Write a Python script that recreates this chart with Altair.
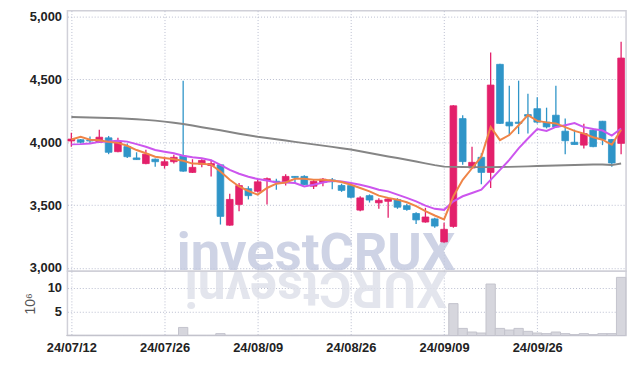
import altair as alt
import pandas as pd

dates = ["24/07/12", "24/07/15", "24/07/16", "24/07/17", "24/07/18", "24/07/19", "24/07/22", "24/07/23",
         "24/07/24", "24/07/25", "24/07/26", "24/07/29", "24/07/30", "24/07/31", "24/08/01", "24/08/02",
         "24/08/05", "24/08/06", "24/08/07", "24/08/08", "24/08/09", "24/08/12", "24/08/13", "24/08/14",
         "24/08/16", "24/08/19", "24/08/20", "24/08/21", "24/08/22", "24/08/23", "24/08/26", "24/08/27",
         "24/08/28", "24/08/29", "24/08/30", "24/09/02", "24/09/03", "24/09/04", "24/09/05", "24/09/06",
         "24/09/09", "24/09/10", "24/09/11", "24/09/12", "24/09/13", "24/09/19", "24/09/20", "24/09/23",
         "24/09/24", "24/09/25", "24/09/26", "24/09/27", "24/09/30", "24/10/02", "24/10/04", "24/10/07",
         "24/10/08", "24/10/10", "24/10/11", "24/10/14"]

opens = [4010, 4020, 4015, 4000, 4035, 3925, 3965, 3875, 3830, 3865,
         3815, 3845, 3890, 3760, 3825, 3815, 3820, 3340, 3505, 3630,
         3610, 3695, 3690, 3685, 3728, 3728, 3650, 3680, 3700, 3656,
         3655, 3460, 3575, 3518, 3530, 3543, 3495, 3433, 3365, 3390,
         3207, 3330, 4188, 3795, 3880, 3760, 4620, 4160, 4160, 4220,
         4267, 4160, 4215, 4088, 4000, 3977, 4096, 4167, 4022, 3991]
highs = [4075, 4025, 4045, 4100, 4050, 4035, 3990, 3920, 3940, 3870,
         3885, 3900, 4490, 3865, 3865, 3860, 3825, 3590, 3675, 3650,
         3705, 3720, 3710, 3745, 3730, 3738, 3700, 3715, 3715, 3670,
         3665, 3570, 3585, 3555, 3558, 3555, 3510, 3443, 3478, 3400,
         3360, 4295, 4215, 3965, 3912, 4715, 4625, 4450, 4490, 4385,
         4358, 4275, 4450, 4188, 4100, 4148, 4110, 4170, 4025, 4800]
lows = [3965, 3990, 3985, 3995, 3905, 3920, 3875, 3860, 3825, 3805,
        3790, 3830, 3765, 3755, 3800, 3728, 3345, 3335, 3450, 3545,
        3600, 3505, 3622, 3655, 3670, 3660, 3628, 3650, 3625, 3605,
        3555, 3450, 3520, 3470, 3400, 3470, 3455, 3350, 3360, 3320,
        3200, 3320, 3820, 3790, 3665, 3635, 4145, 4055, 4065, 4070,
        4150, 4110, 4115, 3905, 3980, 3950, 3960, 3977, 3805, 3905]
closes = [4025, 4000, 4010, 4040, 3920, 4005, 3885, 3862, 3905, 3845,
          3845, 3880, 3770, 3800, 3855, 3830, 3410, 3545, 3655, 3575,
          3685, 3710, 3682, 3728, 3720, 3662, 3688, 3706, 3686, 3617,
          3562, 3557, 3540, 3538, 3548, 3483, 3465, 3382, 3405, 3333,
          3307, 4290, 3846, 3840, 3760, 4455, 4150, 4130, 4150, 4207,
          4160, 4122, 4122, 4012, 3982, 4069, 3965, 4022, 3835, 4670]

ma5 = [4022, 4043, 4020, 4015, 4003, 3995, 3972, 3938, 3912, 3885,
       3875, 3865, 3852, 3830, 3828, 3822, 3767, 3701, 3648, 3612,
       3583, 3636, 3670, 3680, 3709, 3709, 3701, 3701, 3696, 3683,
       3662, 3636, 3609, 3575, 3557, 3543, 3522, 3491, 3451, 3417,
       3386, 3570, 3701, 3793, 3885, 4122, 4017, 4057, 4135, 4216,
       4170, 4158, 4150, 4120, 4090, 4069, 4040, 4020, 3980, 4100]
ma20 = [3983, 3985, 3990, 4003, 4006, 4011, 4005, 3985, 3964, 3938,
        3925, 3912, 3893, 3880, 3872, 3857, 3819, 3780, 3749, 3725,
        3707, 3696, 3680, 3680, 3675, 3648, 3662, 3680, 3693, 3688,
        3676, 3662, 3644, 3622, 3609, 3583, 3557, 3530, 3496, 3470,
        3462, 3530, 3570, 3596, 3622, 3701, 3780, 3859, 3951, 4030,
        4105, 4090, 4122, 4135, 4153, 4120, 4105, 4093, 4053, 4109]
ma120 = [4200, 4199, 4197, 4195, 4193, 4190, 4187, 4183, 4178, 4172,
         4164, 4155, 4145, 4133, 4120, 4108, 4095, 4082, 4068, 4055,
         4043, 4033, 4023, 4013, 4003, 3993, 3983, 3973, 3963, 3953,
         3943, 3929, 3915, 3901, 3887, 3874, 3860, 3846, 3832, 3818,
         3806, 3804, 3803, 3802, 3802, 3802, 3803, 3804, 3806, 3808,
         3810, 3812, 3814, 3816, 3818, 3820, 3822, 3823, 3818, 3830]
volume = [0.05, 0.05, 0.05, 0.05, 0.05, 0.05, 0.05, 0.05, 0.05, 0.05,
          0.05, 0.05, 1.7, 0.05, 0.05, 0.05, 0.4, 0.05, 0.05, 0.05,
          0.05, 0.05, 0.05, 0.05, 0.05, 0.05, 0.05, 0.05, 0.05, 0.05,
          0.05, 0.05, 0.05, 0.05, 0.05, 0.05, 0.05, 0.05, 0.05, 0.05,
          0.05, 6.7, 1.5, 0.74, 0.53, 10.8, 1.5, 1.15, 1.5, 0.88,
          0.53, 0.4, 0.74, 0.4, 0.2, 0.4, 0.2, 0.4, 0.4, 12.2]

price_ticks = [3000, 3250, 3500, 3750, 4000, 4250, 4500, 4750, 5000]
vol_ticks = [5, 10]
watermark = "investCRUX"

n = len(dates)
df = pd.DataFrame({
    "i": list(range(n)), "date": dates, "open": opens, "high": highs, "low": lows,
    "close": closes, "ma5": ma5, "ma20": ma20, "ma120": ma120, "vol": volume,
})
df["dir"] = ["up" if c >= o else "down" for o, c in zip(opens, closes)]

tick_idx = list(range(0, n, 10))
label_expr = "".join(f"datum.value == {k} ? '{dates[k]}' : " for k in tick_idx) + "''"

FONT = "Liberation Sans"
RED = "#e3206b"
BLUE = "#2f95c8"
GRID = "#b9bdcf"
W = 564
H_PRICE = 263
H_VOL = 65

xscale = alt.Scale(domain=[-0.42, 59.53], nice=False, zero=False)
color = alt.Color("dir:N", scale=alt.Scale(domain=["up", "down"], range=[RED, BLUE]), legend=None)

x_price_axis = alt.Axis(values=tick_idx, labels=False, ticks=False, domain=False, grid=True, title=None)
x_vol_axis = alt.Axis(values=tick_idx, labelExpr=label_expr, ticks=False, domain=False, grid=True,
                      title=None, labelFont=FONT, labelFontSize=13, labelFontWeight="bold",
                      labelColor="#222222", labelPadding=6)

base = alt.Chart(df)

y_price = alt.Y("low:Q", scale=alt.Scale(domain=[2974, 5047], nice=False, zero=False),
                axis=alt.Axis(values=price_ticks, format=",d", ticks=False, domain=False, grid=True,
                              title=None, labelFont=FONT, labelFontSize=13, labelFontWeight="bold",
                              labelColor="#222222", labelPadding=6))

wm = alt.Chart(pd.DataFrame({"t": [watermark]})).mark_text(
    font="Roboto", fontWeight="bold", fontSize=53, color="#c3c9df", opacity=0.8,
    align="center", baseline="alphabetic"
).encode(text="t:N", x=alt.value(251), y=alt.value(262))

wicks = base.mark_rule(strokeWidth=1.3).encode(
    x=alt.X("i:Q", scale=xscale, axis=x_price_axis),
    y=y_price, y2="high:Q", color=color)

bodies = base.transform_calculate(
    x0="datum.i - 0.36", x1="datum.i + 0.36"
).mark_rect(strokeWidth=0.8).encode(
    x="x0:Q", x2="x1:Q", y="open:Q", y2="close:Q", color=color, stroke=color)

l120 = base.mark_line(color="#858585", strokeWidth=2).encode(x="i:Q", y="ma120:Q")
l20 = base.mark_line(color="#cc55ee", strokeWidth=2).encode(x="i:Q", y="ma20:Q")
l5 = base.mark_line(color="#ef8447", strokeWidth=2).encode(x="i:Q", y="ma5:Q")

price = alt.layer(wm, wicks, bodies, l120, l20, l5).properties(width=W, height=H_PRICE)

wm_ref = alt.Chart(pd.DataFrame({"t": [watermark[::-1]]})).mark_text(
    font="Roboto", fontWeight="bold", fontSize=50, color="#dfe1ea", opacity=0.85,
    align="center", baseline="alphabetic", angle=180
).encode(text="t:N", x=alt.value(251), y=alt.value(1))

vbars = base.transform_calculate(
    x0="datum.i - 0.5", x1="datum.i + 0.5"
).mark_rect(fill="#d6d6dd", stroke="#c3c3cc", strokeWidth=1).encode(
    x=alt.X("x0:Q", scale=xscale, axis=x_vol_axis),
    x2="x1:Q",
    y=alt.Y("vol:Q", scale=alt.Scale(domain=[0, 13.5], nice=False),
            axis=alt.Axis(values=vol_ticks, format="d", ticks=False, domain=False, grid=True,
                          title="10⁶", titleFont=FONT, titleFontSize=14, titleFontWeight="normal",
                          titleColor="#555555", titlePadding=10,
                          labelFont=FONT, labelFontSize=13, labelFontWeight="bold",
                          labelColor="#222222", labelPadding=6)),
    y2=alt.datum(0))

vol = alt.layer(wm_ref, vbars).properties(width=W, height=H_VOL)

chart = alt.vconcat(price, vol, spacing=0, bounds="flush").properties(
    padding={"left": 14, "top": 0, "right": 4, "bottom": 4}
).configure_view(stroke="#d0d0d8", strokeWidth=1.5).configure_axis(
    gridColor=GRID, gridDash=[1, 2], gridWidth=1
)

chart.save("out.html", embed_options={"renderer": "svg", "actions": False})
